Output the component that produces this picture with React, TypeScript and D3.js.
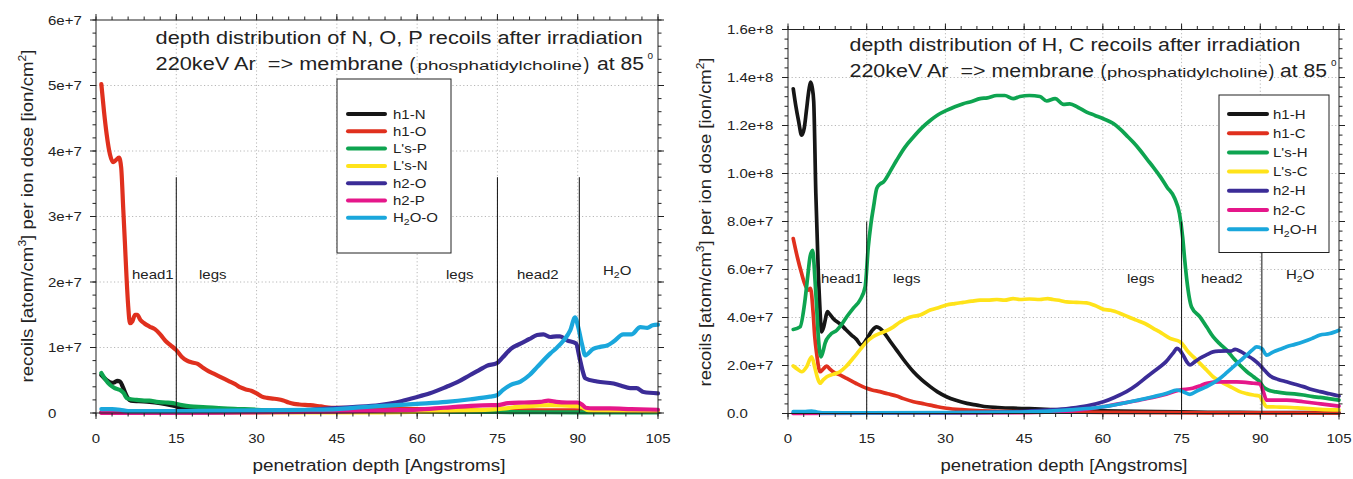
import React from "react";
import * as d3 from "d3";

type Pt = [number, number];

// depth in Angstroms, values in units of 1e7 recoils per ion dose
const depthTicks = [0, 15, 30, 45, 60, 75, 90, 105];
const leftYTicks = [0, 1, 2, 3, 4, 5, 6];
const leftYTickLabels = ["0", "1e+7", "2e+7", "3e+7", "4e+7", "5e+7", "6e+7"];
const rightYTicks = [0, 2, 4, 6, 8, 10, 12, 14, 16];
const rightYTickLabels = ["0.0", "2.0e+7", "4.0e+7", "6.0e+7", "8.0e+7", "1.0e+8", "1.2e+8", "1.4e+8", "1.6e+8"];

const leftNames = ["h1-N", "h1-O", "L's-P", "L's-N", "h2-O", "h2-P", "H2O-O"];
const rightNames = ["h1-H", "h1-C", "L's-H", "L's-C", "h2-H", "h2-C", "H2O-H"];
const seriesColors = ["#161616", "#e0301e", "#0ea450", "#ffe31a", "#3b2c97", "#e5178a", "#1aa7dc"];

const regionNames = ["head1", "legs", "legs", "head2", "H2O"];
const layerBounds = [15, 75, 90.3];

// ---- N, O, P recoils ----
const leftH1N: Pt[] = [[1, 0.58], [2, 0.5], [3, 0.46], [3.5, 0.47], [4, 0.49], [4.5, 0.48], [5, 0.4], [5.5, 0.3], [6, 0.22], [6.5, 0.19], [8, 0.18], [10, 0.17], [12, 0.15], [14, 0.12], [15, 0.1], [16, 0.08], [18, 0.06], [22, 0.05], [30, 0.03], [45, 0.02], [105, 0.02]];
const leftH1O: Pt[] = [[1, 5.02], [1.5, 4.6], [2, 4.25], [2.6, 3.95], [3.2, 3.83], [3.7, 3.86], [4.3, 3.9], [4.7, 3.75], [5.1, 3.1], [5.4, 2.6], [5.7, 2.08], [6, 1.65], [6.35, 1.37], [6.8, 1.4], [7.3, 1.5], [7.7, 1.5], [8.3, 1.42], [9, 1.37], [10, 1.32], [11, 1.28], [12, 1.2], [13, 1.1], [14, 1.03], [15, 0.96], [16, 0.86], [17, 0.8], [18, 0.77], [19, 0.75], [20, 0.69], [21, 0.64], [22, 0.6], [23, 0.56], [24, 0.52], [25, 0.48], [26, 0.44], [27, 0.39], [28, 0.36], [29, 0.34], [30, 0.3], [31, 0.25], [32, 0.23], [33, 0.22], [34, 0.21], [35, 0.19], [36, 0.16], [37, 0.14], [38, 0.13], [40, 0.12], [42, 0.1], [44, 0.08], [46, 0.08], [50, 0.07], [55, 0.07], [60, 0.06], [70, 0.05], [80, 0.04], [90, 0.04], [95, 0.03], [105, 0.03]];
const leftLsP: Pt[] = [[1, 0.61], [1.7, 0.52], [2.6, 0.43], [3.5, 0.38], [4.5, 0.35], [5.2, 0.3], [5.7, 0.23], [6.5, 0.21], [7.6, 0.2], [9, 0.19], [10, 0.19], [11.3, 0.17], [13, 0.16], [14.4, 0.15], [16, 0.12], [17.6, 0.1], [20, 0.09], [23.8, 0.07], [27, 0.06], [30, 0.05], [35, 0.04], [45, 0.03], [60, 0.02], [75, 0.015], [90, 0.01], [105, 0.01]];
const leftLsN: Pt[] = [[1, 0.01], [50, 0.01], [65, 0.03], [75, 0.06], [80, 0.1], [85, 0.12], [89, 0.11], [90.5, 0.1], [92, 0.04], [105, 0.03]];
const leftH2O: Pt[] = [[1, 0.01], [20, 0.01], [30, 0.02], [40, 0.05], [43.7, 0.07], [48, 0.09], [53, 0.12], [56, 0.16], [59.3, 0.23], [62.4, 0.3], [65.5, 0.4], [67.5, 0.47], [69.9, 0.58], [71.5, 0.65], [73, 0.72], [74.9, 0.76], [76, 0.85], [77.5, 0.98], [79.3, 1.06], [81, 1.13], [82.4, 1.19], [83.6, 1.2], [84.9, 1.16], [86, 1.17], [86.7, 1.17], [88, 1.11], [89.7, 1.06], [90.3, 0.86], [91, 0.62], [91.4, 0.53], [93.6, 0.48], [96.7, 0.45], [98, 0.42], [99.8, 0.38], [101, 0.38], [102.3, 0.32], [105, 0.3]];
const leftH2P: Pt[] = [[1, 0], [30, 0.01], [45, 0.02], [55, 0.04], [60, 0.05], [65, 0.08], [70, 0.11], [74, 0.12], [75, 0.12], [77, 0.15], [80, 0.16], [83, 0.17], [84.5, 0.19], [86, 0.17], [88, 0.16], [90, 0.16], [90.8, 0.13], [91.5, 0.08], [93, 0.07], [96, 0.07], [100, 0.06], [105, 0.05]];
const leftWaterO: Pt[] = [[1, 0.06], [3, 0.06], [4.5, 0.05], [6, 0.03], [15, 0.03], [30, 0.04], [40, 0.05], [45, 0.06], [50, 0.09], [56.1, 0.12], [60, 0.14], [65.5, 0.17], [70, 0.21], [73.6, 0.25], [74.9, 0.27], [76, 0.35], [77.5, 0.43], [79.3, 0.48], [81, 0.58], [82.4, 0.7], [84.9, 0.91], [86, 0.99], [87.4, 1.11], [88.6, 1.26], [89.5, 1.46], [90.1, 1.31], [90.8, 1.05], [91.4, 0.88], [92.9, 0.98], [94.2, 1.01], [95.5, 1.03], [96.7, 1.09], [98.5, 1.2], [100, 1.2], [101.7, 1.31], [103, 1.3], [104, 1.34], [105, 1.35]];

// ---- H, C recoils ----
const rightH1H: Pt[] = [[1, 13.53], [1.5, 12.8], [2, 12.2], [2.6, 11.6], [3.1, 11.9], [3.5, 12.6], [4, 13.5], [4.3, 13.81], [4.6, 13.6], [4.9, 13.0], [5.3, 9.2], [5.8, 5.7], [6.1, 4.3], [6.4, 3.4], [6.8, 3.6], [7.1, 3.9], [7.5, 4.25], [7.9, 4.15], [8.6, 3.96], [10.2, 3.68], [11, 3.5], [12.1, 3.27], [13, 3.1], [14, 2.85], [15, 3.1], [16, 3.45], [16.9, 3.61], [17.5, 3.55], [18.2, 3.4], [19.5, 3.0], [20.7, 2.64], [22, 2.25], [23.9, 1.74], [25.5, 1.4], [27.1, 1.12], [28.5, 0.9], [30.2, 0.7], [32, 0.55], [34.1, 0.42], [36, 0.35], [37.9, 0.28], [40, 0.25], [42.9, 0.22], [46, 0.2], [50, 0.16], [60, 0.11], [70, 0.08], [80, 0.05], [90, 0.04], [105, 0.03]];
const rightH1C: Pt[] = [[1, 7.29], [1.8, 6.5], [2.6, 5.83], [3.2, 5.4], [3.87, 5.14], [4.3, 5.21], [4.8, 4.17], [5.1, 3.2], [5.46, 2.5], [6.1, 1.74], [6.7, 1.85], [7.4, 1.98], [8, 1.85], [8.6, 1.74], [10, 1.6], [11.2, 1.46], [13, 1.25], [15, 1.05], [16, 0.98], [17.5, 0.91], [19, 0.82], [20.7, 0.73], [22, 0.62], [23.9, 0.49], [25.5, 0.42], [27.1, 0.35], [28.5, 0.28], [30.2, 0.22], [33, 0.16], [36, 0.12], [40, 0.09], [45, 0.07], [50, 0.06], [60, 0.05], [70, 0.04], [80, 0.03], [105, 0.02]];
const rightLsH: Pt[] = [[1, 3.5], [2.3, 3.61], [3.24, 4.72], [3.8, 5.8], [4.2, 6.53], [4.7, 6.8], [5.15, 5.56], [5.5, 4.3], [5.78, 3.2], [6.29, 2.36], [6.7, 2.6], [7.05, 2.92], [8, 3.27], [9.3, 3.47], [10.2, 3.7], [11.2, 4.03], [12.5, 4.4], [13.7, 4.72], [14.7, 5.28], [15.3, 6.94], [15.8, 7.9], [16.3, 8.61], [16.9, 9.37], [17.5, 9.55], [18.2, 9.65], [19.5, 10.1], [20.7, 10.55], [22.3, 11.1], [23.9, 11.52], [25.5, 11.9], [27.1, 12.21], [28.6, 12.45], [30.2, 12.63], [31.8, 12.78], [33.4, 12.91], [35, 13.0], [36.6, 13.12], [38, 13.15], [39.8, 13.25], [41.3, 13.25], [42.9, 13.12], [44.2, 13.21], [46, 13.25], [48, 13.21], [49.3, 13.02], [50.9, 13.12], [52.5, 12.88], [53.7, 12.9], [55.3, 12.75], [56.9, 12.56], [58.5, 12.42], [60.1, 12.28], [62, 12.08], [63.3, 11.85], [64.5, 11.59], [65.8, 11.3], [67.1, 10.97], [68.4, 10.6], [69.6, 10.27], [71, 9.85], [72.2, 9.44], [73.7, 8.96], [74.6, 8.33], [75.2, 7.36], [75.6, 6.4], [76, 5.56], [76.9, 4.44], [78.5, 4.03], [79.8, 3.6], [81, 3.2], [82.3, 2.9], [83.6, 2.64], [84.9, 2.3], [86.1, 2.02], [87.4, 1.75], [88.7, 1.53], [89.9, 1.32], [90.6, 1.1], [91.5, 0.98], [93, 0.9], [95, 0.84], [96.5, 0.82], [98.2, 0.77], [100, 0.7], [101.4, 0.67], [103, 0.62], [105, 0.56]];
const rightLsC: Pt[] = [[1, 1.98], [1.8, 1.85], [2.6, 1.74], [3.56, 1.95], [4.5, 2.36], [5.15, 1.88], [5.6, 1.5], [6.1, 1.26], [6.7, 1.4], [7.4, 1.53], [8.6, 1.63], [9.9, 1.74], [11, 1.95], [12.4, 2.3], [13.7, 2.65], [15, 2.99], [16.2, 3.2], [17.5, 3.34], [18.8, 3.45], [20.1, 3.61], [21.3, 3.8], [22.6, 3.96], [23.9, 4.05], [25.2, 4.1], [27.1, 4.31], [28.5, 4.4], [30.2, 4.52], [31.8, 4.58], [33.4, 4.63], [35, 4.68], [36.6, 4.72], [38, 4.72], [39.8, 4.75], [41.3, 4.72], [42.9, 4.79], [44.2, 4.75], [46, 4.77], [48, 4.75], [49.5, 4.79], [50.5, 4.75], [52, 4.7], [53.1, 4.65], [55, 4.63], [56.9, 4.61], [58.5, 4.5], [60.1, 4.34], [61.5, 4.3], [63.3, 4.17], [64.8, 4.03], [66.4, 3.89], [68, 3.75], [69.6, 3.55], [71.2, 3.35], [72.8, 3.13], [74.7, 2.99], [75.5, 2.8], [76, 2.64], [77.3, 2.35], [78.5, 2.09], [79.8, 1.8], [81, 1.53], [82.3, 1.35], [83.6, 1.19], [84.9, 1.05], [86.1, 0.91], [87.4, 0.83], [88.7, 0.77], [89.8, 0.73], [90.5, 0.5], [91.2, 0.28], [93, 0.27], [95, 0.26], [98, 0.22], [101.4, 0.17], [105, 0.15]];
const rightH2H: Pt[] = [[1, 0.02], [20, 0.02], [30, 0.03], [38, 0.05], [44.2, 0.08], [49, 0.14], [53.7, 0.22], [57, 0.32], [60.1, 0.49], [62.3, 0.68], [64.5, 0.91], [66.5, 1.2], [68.4, 1.53], [69.7, 1.75], [70.9, 1.95], [72, 2.15], [72.8, 2.36], [73.5, 2.55], [74.1, 2.71], [74.6, 2.65], [75.3, 2.43], [76, 2.15], [76.6, 2.02], [77.5, 2.15], [78.5, 2.3], [79.8, 2.45], [81, 2.57], [82.3, 2.6], [83.6, 2.61], [84.4, 2.6], [85.2, 2.67], [86.3, 2.58], [87.4, 2.43], [88.7, 2.25], [89.9, 2.02], [90.9, 1.78], [91.9, 1.56], [93.4, 1.42], [95, 1.32], [96.6, 1.22], [98.2, 1.12], [99.8, 1.0], [101.4, 0.91], [103.2, 0.82], [105, 0.73]];
const rightH2C: Pt[] = [[1, 0], [30, 0.02], [45, 0.04], [52, 0.08], [56, 0.15], [60.1, 0.28], [63, 0.4], [66.4, 0.53], [69, 0.65], [71.5, 0.77], [74.7, 0.98], [77.1, 1.05], [78.5, 1.15], [79.8, 1.26], [82.3, 1.32], [85.5, 1.32], [88.7, 1.26], [89.9, 1.23], [90.6, 0.9], [91.2, 0.56], [95, 0.56], [98.2, 0.49], [101.5, 0.4], [105, 0.31]];
const rightWaterH: Pt[] = [[1, 0.08], [3, 0.08], [4.5, 0.1], [5.5, 0.06], [6.5, 0.03], [15, 0.03], [30, 0.04], [44.2, 0.06], [53.7, 0.15], [60.1, 0.28], [65.2, 0.49], [69.6, 0.7], [72.2, 0.84], [74.1, 0.98], [75.3, 0.91], [76.6, 0.8], [78, 0.95], [79.8, 1.12], [82.3, 1.46], [83.6, 1.7], [84.9, 1.95], [86.2, 2.2], [87.4, 2.43], [88.5, 2.65], [89.3, 2.78], [90.3, 2.71], [91.2, 2.43], [92.5, 2.57], [93.8, 2.68], [95, 2.78], [96.6, 2.88], [98.2, 2.99], [99.8, 3.12], [101.4, 3.27], [103.2, 3.33], [105, 3.47]];

const leftSeries = [leftH1N, leftH1O, leftLsP, leftLsN, leftH2O, leftH2P, leftWaterO];
const rightSeries = [rightH1H, rightH1C, rightLsH, rightLsC, rightH2H, rightH2C, rightWaterH];

const FONT = "'Liberation Sans', Arial, Helvetica, sans-serif";
const INK = "#222";
const SX = 1.2; // text in the source is horizontally stretched

const panels = [
  {
    left: 96, right: 658, top: 20, bottom: 413,
    yMax: 6, yMinor: 0.2, yTicks: leftYTicks, yLabels: leftYTickLabels, yLabelX: 48,
    series: leftSeries, names: leftNames, lineW: 4.2, boundTop: 3.6,
    legend: { x: 337, y: 79, w: 114, h: 174, l0: 348, l1: 385, tx: 393, row0: 114, gap: 17.3 },
    regionX: [132, 199, 446, 517, 603], regionY: 279,
    title1: "depth distribution of N, O, P recoils after irradiation",
    tx: 155.6, t1y: 43.5, t1len: 487, t2y: 70,
    // membrane end, "(" x, name start/end, ")" x, "at 85" start/end, degree x
    t2: [403, 409.5, 417.5, 582, 583.5, 597, 644, 647.5], degY: 59,
    yTitleX: 33, yTitleCY: 216, yTitleLen: 333,
    xTitleCX: 379, xTitleLen: 253,
  },
  {
    left: 788, right: 1339, top: 29.5, bottom: 413.5,
    yMax: 16, yMinor: 0.4, yTicks: rightYTicks, yLabels: rightYTickLabels, yLabelX: 727,
    series: rightSeries, names: rightNames, lineW: 3.7, boundTop: 8,
    legend: { x: 1219, y: 95, w: 110, h: 157.5, l0: 1229, l1: 1267, tx: 1273, row0: 114, gap: 19.2 },
    regionX: [821, 893, 1127, 1201, 1286], regionY: 283,
    title1: "depth distribution of H, C recoils after irradiation",
    tx: 849.5, t1y: 50.5, t1len: 451, t2y: 77,
    t2: [1094, 1100.5, 1107, 1267.6, 1268.5, 1280, 1327, 1331], degY: 66,
    yTitleX: 711, yTitleCY: 222, yTitleLen: 329,
    xTitleCX: 1064, xTitleLen: 247,
  },
];

function Label({ name, x, y, size }: { name: string; x: number; y: number; size: number }) {
  // "H2O..." gets a subscript 2
  const parts = name.startsWith("H2O") ? ["H", "2", name.slice(2)] : null;
  return (
    <text transform={`translate(${x},${y}) scale(${SX},1)`} fontSize={size} fill={INK}>
      {parts ? (
        <>
          {parts[0]}
          <tspan fontSize={size * 0.7} dy={3}>{parts[1]}</tspan>
          <tspan dy={-3}>{parts[2]}</tspan>
        </>
      ) : (
        name
      )}
    </text>
  );
}

function Panel({ p }: { p: (typeof panels)[number] }) {
  const x = d3.scaleLinear().domain([0, 105]).range([p.left, p.right]);
  const y = d3.scaleLinear().domain([0, p.yMax]).range([p.bottom, p.top]);
  const line = d3
    .line<Pt>()
    .x((d) => x(d[0]))
    .y((d) => y(d[1]))
    .curve(d3.curveMonotoneX);

  const minorX = d3.range(0, 105.001, 3);
  const minorY = d3.range(0, p.yMax + 1e-6, p.yMinor);
  const L = p.legend;
  const t2 = p.t2;

  return (
    <g fontFamily={FONT}>
      {/* grid */}
      {depthTicks.slice(1, -1).map((t) => (
        <line key={"gx" + t} x1={x(t)} x2={x(t)} y1={p.top} y2={p.bottom} stroke="#b8b8b8" strokeWidth={1} strokeDasharray="1.2,2.4" />
      ))}
      {p.yTicks.slice(1, -1).map((t) => (
        <line key={"gy" + t} x1={p.left} x2={p.right} y1={y(t)} y2={y(t)} stroke="#b8b8b8" strokeWidth={1} strokeDasharray="1.2,2.4" />
      ))}

      {/* curves */}
      {p.series.map((s, i) => (
        <path key={"s" + i} d={line(s) ?? ""} fill="none" stroke={seriesColors[i]} strokeWidth={p.lineW} strokeLinejoin="round" strokeLinecap="round" />
      ))}

      {/* layer boundaries */}
      {layerBounds.map((b) => (
        <line key={"b" + b} x1={x(b)} x2={x(b)} y1={y(p.boundTop)} y2={p.bottom} stroke="#111" strokeWidth={1} />
      ))}
      {regionNames.map((r, i) => (
        <Label key={"r" + i} name={r} x={p.regionX[i]} y={r === "H2O" ? p.regionY - 4 : p.regionY} size={12.5} />
      ))}

      {/* frame + ticks */}
      <rect x={p.left} y={p.top} width={p.right - p.left} height={p.bottom - p.top} fill="none" stroke="#222" strokeWidth={1} />
      {minorX.map((t) => (
        <g key={"mx" + t} stroke="#222" strokeWidth={1}>
          <line x1={x(t)} x2={x(t)} y1={p.bottom} y2={p.bottom + 3.5} />
          <line x1={x(t)} x2={x(t)} y1={p.top} y2={p.top - 3.5} />
        </g>
      ))}
      {depthTicks.map((t) => (
        <g key={"tx" + t} stroke="#222" strokeWidth={1}>
          <line x1={x(t)} x2={x(t)} y1={p.bottom} y2={p.bottom + 6} />
          <line x1={x(t)} x2={x(t)} y1={p.top} y2={p.top - 6} />
        </g>
      ))}
      {minorY.map((t, i) => (
        <g key={"my" + i} stroke="#222" strokeWidth={1}>
          <line x1={p.left} x2={p.left - 3.5} y1={y(t)} y2={y(t)} />
          <line x1={p.right} x2={p.right + 3.5} y1={y(t)} y2={y(t)} />
        </g>
      ))}
      {p.yTicks.map((t) => (
        <g key={"ty" + t} stroke="#222" strokeWidth={1}>
          <line x1={p.left} x2={p.left - 6} y1={y(t)} y2={y(t)} />
          <line x1={p.right} x2={p.right + 6} y1={y(t)} y2={y(t)} />
        </g>
      ))}

      {/* tick labels */}
      {depthTicks.map((t) => (
        <text key={"lx" + t} transform={`translate(${x(t)},443) scale(${SX},1)`} textAnchor="middle" fontSize={12.5} fill={INK}>
          {t}
        </text>
      ))}
      {p.yTicks.map((t, i) => (
        <text key={"ly" + t} transform={`translate(${p.yLabelX},${y(t) + 4.5}) scale(${SX},1)`} fontSize={12.5} fill={INK}>
          {p.yLabels[i]}
        </text>
      ))}

      {/* axis titles */}
      <text x={p.xTitleCX} y={471} textAnchor="middle" fontSize={16} fill={INK} textLength={p.xTitleLen} lengthAdjust="spacingAndGlyphs">
        penetration depth [Angstroms]
      </text>
      <text
        transform={`translate(${p.yTitleX},${p.yTitleCY}) rotate(-90)`}
        textAnchor="middle"
        fontSize={17}
        fill={INK}
        textLength={p.yTitleLen}
        lengthAdjust="spacingAndGlyphs"
      >
        recoils [atom/cm<tspan fontSize={11} dy={-7}>3</tspan>
        <tspan dy={7}>] per ion dose [ion/cm</tspan>
        <tspan fontSize={11} dy={-7}>2</tspan>
        <tspan dy={7}>]</tspan>
      </text>

      {/* title */}
      <text x={p.tx} y={p.t1y} fontSize={17.5} fill={INK} textLength={p.t1len} lengthAdjust="spacingAndGlyphs">
        {p.title1}
      </text>
      <text x={p.tx} y={p.t2y} fontSize={17.5} fill={INK} textLength={t2[0] - p.tx} lengthAdjust="spacingAndGlyphs" style={{ whiteSpace: "pre" }}>
        {"220keV Ar  => membrane"}
      </text>
      <text x={t2[1]} y={p.t2y} fontSize={17.5} fill={INK}>
        (
      </text>
      <text x={t2[2]} y={p.t2y} fontSize={13} fill={INK} textLength={t2[3] - t2[2]} lengthAdjust="spacingAndGlyphs">
        phosphatidylcholine
      </text>
      <text x={t2[4]} y={p.t2y} fontSize={17.5} fill={INK}>
        )
      </text>
      <text x={t2[5]} y={p.t2y} fontSize={17.5} fill={INK} textLength={t2[6] - t2[5]} lengthAdjust="spacingAndGlyphs">
        at 85
      </text>
      <text x={t2[7]} y={p.degY} fontSize={10} fill={INK}>
        o
      </text>

      {/* legend */}
      <rect x={L.x} y={L.y} width={L.w} height={L.h} fill="#fff" stroke="#222" strokeWidth={1} />
      {p.names.map((n, i) => {
        const ry = L.row0 + i * L.gap;
        return (
          <g key={"lg" + i}>
            <line x1={L.l0} x2={L.l1} y1={ry} y2={ry} stroke={seriesColors[i]} strokeWidth={4} strokeLinecap="round" />
            <Label name={n} x={L.tx} y={ry + 4.5} size={12.5} />
          </g>
        );
      })}
    </g>
  );
}

export default function App() {
  return (
    <svg width={1353} height={479} style={{ position: "absolute", left: 0, top: 0, background: "#fff" }}>
      <rect width={1353} height={479} fill="#fff" />
      {panels.map((p, i) => (
        <Panel key={i} p={p} />
      ))}
    </svg>
  );
}
